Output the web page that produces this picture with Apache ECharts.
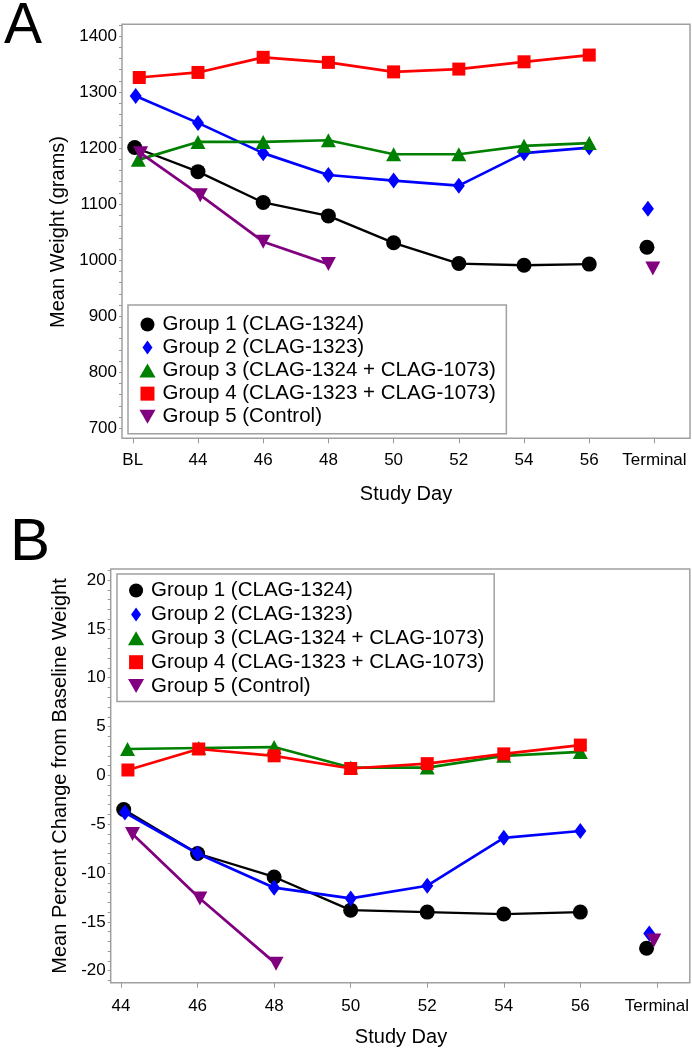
<!DOCTYPE html>
<html><head><meta charset="utf-8">
<script src="https://cdn.jsdelivr.net/npm/echarts@6/dist/echarts.min.js"></script>
<style>html,body{margin:0;padding:0;background:#fff}#c{width:692px;height:1050px}</style>
</head><body><div id="c"></div>
<script>
// ---------- data ----------
const groupNames = ['Group 1 (CLAG-1324)','Group 2 (CLAG-1323)','Group 3 (CLAG-1324 + CLAG-1073)','Group 4 (CLAG-1323 + CLAG-1073)','Group 5 (Control)'];

// Panel A: mean weight (grams); BL plotted at 42, Terminal at 58
const xTicksA = [42,44,46,48,50,52,54,56,58];
const xLabelsA = ['BL','44','46','48','50','52','54','56','Terminal'];
const yTicksA = [700,800,900,1000,1100,1200,1300,1400];
const dayA1 = [42.06,44,46,48,50,52,54,56];
const wtA1  = [1201,1158,1103,1079,1031,994,991,993];
const dayA2 = [42.09,44,46,48,50,52,54,56];
const wtA2  = [1293,1245,1191,1152,1142,1133,1191,1201];
const dayA3 = [42.17,44,46,48,50,52,54,56];
const wtA3  = [1179,1211,1211,1214,1189,1189,1204,1209];
const dayA4 = [42.2,44,46,48,50,52,54,56];
const wtA4  = [1326,1335,1362,1353,1336,1341,1354,1366];
const dayA5 = [42.24,44.07,46,48];
const wtA5  = [1191,1116,1033,993];
const termDayA = [57.77,57.8,57.95];      // groups 1,2,5
const termWtA  = [1023,1092,985];

// Panel B: mean percent change from baseline
const xTicksB = [44,46,48,50,52,54,56,58];
const xLabelsB = ['44','46','48','50','52','54','56','Terminal'];
const yTicksB = [-20,-15,-10,-5,0,5,10,15,20];
const dayB1 = [44.07,46,48,50,52,54,56];
const pcB1  = [-3.5,-8.0,-10.4,-13.8,-14.0,-14.2,-14.0];
const dayB2 = [44.1,46,48,50,52,54,56];
const pcB2  = [-3.8,-8.0,-11.5,-12.6,-11.3,-6.4,-5.7];
const dayB3 = [44.17,46.03,48,50,52,54,56];
const pcB3  = [2.7,2.8,2.9,0.8,0.8,2.0,2.4];
const dayB4 = [44.18,46.03,48,50,52,54,56];
const pcB4  = [0.55,2.7,2.0,0.7,1.2,2.2,3.1];
const dayB5 = [44.3,46.06,48.05];
const pcB5  = [-6.0,-12.6,-19.3];
const termDayB = [57.73,57.8,57.92];
const termPcB  = [-17.7,-16.2,-16.9];

// ---------- styles ----------
const FF = '"Liberation Sans", Arial, sans-serif';
const invTri = 'path://M0,0 L16,0 L8,14 Z';
const sty = [
  {color:'#000000', symbol:'circle', size:15, lw:2.3},
  {color:'#0000ff', symbol:'diamond', size:[12,16], lw:2.7},
  {color:'#008000', symbol:'triangle', size:[15,14], lw:2.7},
  {color:'#ff0000', symbol:'rect', size:13, lw:2.7},
  {color:'#800080', symbol:invTri, size:[15,14], lw:2.7}
];
const legendIcons = ['circle','path://M5,0 L10,7 L5,14 L0,7 Z','path://M7.5,0 L15,13 L0,13 Z','path://M0,0 L12,0 L12,12 L0,12 Z',invTri];

const zip = (xs, ys) => xs.map((x,i)=>[x, ys[i]]);

function lineSeries(g, xs, ys, panel){
  const s = sty[g];
  return {type:'line', name:groupNames[g], xAxisIndex:panel, yAxisIndex:panel,
    data:zip(xs,ys), symbol:s.symbol, symbolSize:s.size, showSymbol:true,
    lineStyle:{color:s.color, width:s.lw}, itemStyle:{color:s.color, opacity:1},
    emphasis:{disabled:true}, animation:false, z:2+g*0.1};
}
function termSeries(g, x, y, panel){
  const s = sty[g];
  return {type:'scatter', name:groupNames[g], xAxisIndex:panel, yAxisIndex:panel,
    data:[[x,y]], symbol:s.symbol, symbolSize:s.size, itemStyle:{color:s.color, opacity:1},
    emphasis:{disabled:true}, animation:false, z:2+g*0.1};
}

const series = [
  lineSeries(0, dayA1, wtA1, 0), lineSeries(1, dayA2, wtA2, 0), lineSeries(2, dayA3, wtA3, 0),
  lineSeries(3, dayA4, wtA4, 0), lineSeries(4, dayA5, wtA5, 0),
  termSeries(0, termDayA[0], termWtA[0], 0), termSeries(1, termDayA[1], termWtA[1], 0), termSeries(4, termDayA[2], termWtA[2], 0),
  lineSeries(0, dayB1, pcB1, 1), lineSeries(1, dayB2, pcB2, 1), lineSeries(2, dayB3, pcB3, 1),
  lineSeries(3, dayB4, pcB4, 1), lineSeries(4, dayB5, pcB5, 1),
  termSeries(0, termDayB[0], termPcB[0], 1), termSeries(1, termDayB[1], termPcB[1], 1), termSeries(4, termDayB[2], termPcB[2], 1)
];

// minor tick positions (styling only)
const minorA = []; for (let v = 700; v <= 1420; v += 20) minorA.push(v);
const minorB = []; for (let v = -21; v <= 21; v += 1) minorB.push(v);

const axisCommon = (extra) => Object.assign({
  type:'value', axisLine:{show:false, onZero:false}, splitLine:{show:false},
}, extra);

const option = {
  backgroundColor:'#fff',
  animation:false,
  grid:[
    {left:122, top:24.3, width:568, height:414, show:true, borderColor:'#a0a0a0', borderWidth:1.5, containLabel:false},
    {left:110.7, top:569, width:579.3, height:413.7, show:true, borderColor:'#a0a0a0', borderWidth:1.5, containLabel:false}
  ],
  xAxis:[
    axisCommon({gridIndex:0, position:'bottom', min:41.67, max:59.09,
      axisTick:{show:true, customValues:xTicksA, length:5, lineStyle:{color:'#999', width:1}},
      axisLabel:{customValues:xTicksA, formatter:(v)=>xLabelsA[xTicksA.indexOf(Math.round(v))], margin:14, fontSize:17, color:'#000', fontFamily:FF}}),
    axisCommon({gridIndex:1, position:'bottom', min:43.73, max:58.86,
      axisTick:{show:true, customValues:xTicksB, length:5, lineStyle:{color:'#999', width:1}},
      axisLabel:{customValues:xTicksB, formatter:(v)=>xLabelsB[xTicksB.indexOf(Math.round(v))], margin:15.5, fontSize:17, color:'#000', fontFamily:FF}})
  ],
  yAxis:[
    axisCommon({gridIndex:0, position:'left', min:682.2, max:1420.9,
      axisTick:{show:true, customValues:minorA, length:3, lineStyle:{color:'#999', width:1}},
      axisLabel:{customValues:yTicksA, formatter:(v)=>String(Math.round(v)), margin:5, fontSize:17, color:'#000', fontFamily:FF}}),
    axisCommon({gridIndex:1, position:'left', min:-21.23, max:21.13,
      axisTick:{show:true, customValues:minorB, length:3, lineStyle:{color:'#999', width:1}},
      axisLabel:{customValues:yTicksB, formatter:(v)=>String(Math.round(v)), margin:5, fontSize:17, color:'#000', fontFamily:FF}})
  ],
  legend:[
    {data:groupNames.map((n,i)=>({name:n, icon:legendIcons[i]})), orient:'vertical', left:128, top:305,
     padding:[9,10.6,6.5,11.4], itemWidth:20, itemHeight:14, itemGap:2.05, symbolKeepAspect:true,
     borderColor:'#a0a0a0', borderWidth:1.5, backgroundColor:'#fff', selectedMode:false,
     textStyle:{fontSize:20.5, lineHeight:20, color:'#000', fontFamily:FF}},
    {data:groupNames.map((n,i)=>({name:n, icon:legendIcons[i]})), orient:'vertical', left:117, top:574,
     padding:[6,9.8,5,11], itemWidth:20, itemHeight:14, itemGap:2.9, symbolKeepAspect:true,
     borderColor:'#a0a0a0', borderWidth:1.5, backgroundColor:'#fff', selectedMode:false,
     textStyle:{fontSize:20.5, lineHeight:20, color:'#000', fontFamily:FF}}
  ],
  graphic:[
    {type:'text', x:23, y:27, style:{text:'A', fontSize:57, fontFamily:FF, fill:'#000', align:'center', verticalAlign:'middle'}},
    {type:'text', x:30, y:543, style:{text:'B', fontSize:60, fontFamily:FF, fill:'#000', align:'center', verticalAlign:'middle'}},
    {type:'text', x:58.5, y:232, rotation:Math.PI/2, style:{text:'Mean Weight (grams)', fontSize:20, fontFamily:FF, fill:'#000', align:'center', verticalAlign:'middle'}},
    {type:'text', x:60.5, y:776, rotation:Math.PI/2, style:{text:'Mean Percent Change from Baseline Weight', fontSize:20, fontFamily:FF, fill:'#000', align:'center', verticalAlign:'middle'}},
    {type:'text', x:406, y:494, style:{text:'Study Day', fontSize:20, fontFamily:FF, fill:'#000', align:'center', verticalAlign:'middle'}},
    {type:'text', x:401, y:1037, style:{text:'Study Day', fontSize:20, fontFamily:FF, fill:'#000', align:'center', verticalAlign:'middle'}}
  ],
  series: series
};
const chart = echarts.init(document.getElementById('c'), null, {renderer:'canvas'});
chart.setOption(option);
</script></body></html>
